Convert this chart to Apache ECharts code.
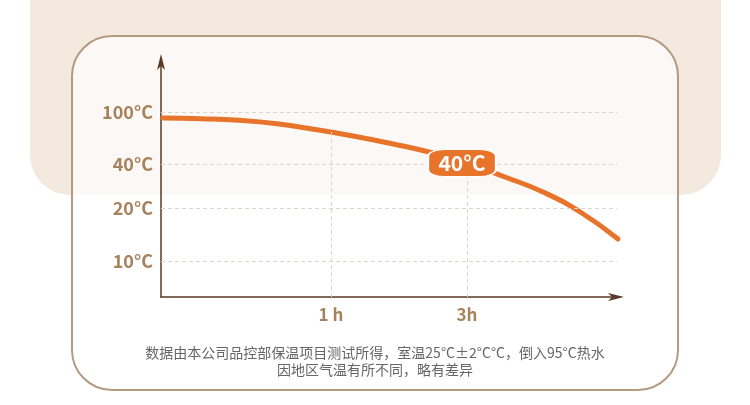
<!DOCTYPE html>
<html>
<head>
<meta charset="utf-8">
<script src="https://cdn.jsdelivr.net/npm/echarts@6/dist/echarts.min.js"></script>
<style>
html,body{margin:0;padding:0;background:#fff;}
#c{width:750px;height:405px;}
</style>
</head>
<body>
<div id="c"></div>
<script>
// Tick labels and their levels on the (illustrative, non-linear) axes
const yTickLabels = ['10°C', '20°C', '40°C', '100°C'];
const yTickLevels = [36, 89, 133, 185];
const xTickLabels = ['1 h', '3h'];
const xTickLevels = [170, 306];
// Temperature curve (axis levels)
const curveX = [2, 40, 78, 116, 154, 192, 230, 268, 306, 344, 382, 420, 457];
const curveY = [179, 178.3, 176.7, 173.2, 167.5, 161, 153.5, 145, 134, 120, 105, 84.5, 58];
// Badge
const badgeText = '40°C';
const badgeAt = [301, 134];
const footnote = ['数据由本公司品控部保温项目测试所得，室温25°C±2°C°C，倒入95°C热水', '因地区气温有所不同，略有差异'];

const FONT = '"Noto Sans CJK SC", "Noto Sans", sans-serif';
const TAN = '#a6825d';
const AXIS = '#5a3a26';
const ORANGE = '#e8732a';
const GRID = '#dcd5ce';

const curve = curveX.map((x, i) => [x, curveY[i]]);
const xMax = 459, yMax = 239, gridEnd = 456;

const markLines = [];
yTickLevels.forEach(v => markLines.push([{coord: [0, v]}, {coord: [gridEnd, v]}]));
// vertical guides from the axis up to the curve at 1 h and 3 h
const guideTops = [166, 134];
xTickLevels.forEach((x, i) => markLines.push([{coord: [x, 0]}, {coord: [x, guideTops[i]]}]));

const chart = echarts.init(document.getElementById('c'), null, {renderer: 'canvas'});
chart.setOption({
  animation: false,
  textStyle: {fontFamily: FONT},
  graphic: [
    {type: 'rect', z: -10, silent: true,
     shape: {x: 30, y: -50, width: 691, height: 245, r: [0, 0, 40, 40]},
     style: {fill: '#f3e9df'}},
    {type: 'rect', z: -9, silent: true,
     shape: {x: 72, y: 36, width: 606, height: 354, r: 40},
     style: {fill: 'rgba(255,255,255,0.68)', stroke: '#b29b80', lineWidth: 2}},
    {type: 'text', z: 5, silent: true, left: 'center', top: 344,
     style: {text: footnote.join('\n'), fill: '#666666', font: '14px ' + FONT,
             textAlign: 'center', lineHeight: 17}}
  ],
  grid: {left: 161, top: 58, right: 130, bottom: 108, containLabel: false},
  xAxis: {
    type: 'value', min: 0, max: xMax,
    axisLine: {show: true, lineStyle: {color: AXIS, width: 1.5},
               symbol: ['none', 'arrow'], symbolSize: [6, 16], symbolOffset: [0, 4]},
    axisTick: {show: false},
    splitLine: {show: false},
    axisLabel: {customValues: xTickLevels, formatter: v => xTickLabels[xTickLevels.indexOf(v)] || '',
                color: TAN, fontWeight: 'bold', fontSize: 17, margin: 9, fontFamily: FONT}
  },
  yAxis: {
    type: 'value', min: 0, max: yMax,
    axisLine: {show: true, lineStyle: {color: AXIS, width: 1.5},
               symbol: ['none', 'arrow'], symbolSize: [6, 16], symbolOffset: [0, 4]},
    axisTick: {show: false},
    splitLine: {show: false},
    axisLabel: {customValues: yTickLevels, formatter: v => yTickLabels[yTickLevels.indexOf(v)] || '',
                color: TAN, fontWeight: 'bold', fontSize: 18, margin: 8, fontFamily: FONT}
  },
  series: [
    {type: 'line', data: [], z: 1, silent: true,
     markLine: {silent: true, symbol: 'none', label: {show: false},
                lineStyle: {color: GRID, type: [4, 3], width: 1},
                data: markLines}},
    {type: 'line', data: curve, smooth: 0.5, showSymbol: false, z: 3, silent: true,
     lineStyle: {color: ORANGE, width: 5, cap: 'round'},
     markPoint: {silent: true, symbol: 'roundRect', symbolSize: [68, 27],
                 itemStyle: {color: ORANGE, borderColor: '#fff', borderWidth: 1.5},
                 label: {show: true, formatter: badgeText, color: '#fff', fontSize: 21,
                         fontWeight: 'bold', fontFamily: FONT},
                 data: [{coord: badgeAt}]}}
  ]
});
</script>
</body>
</html>
